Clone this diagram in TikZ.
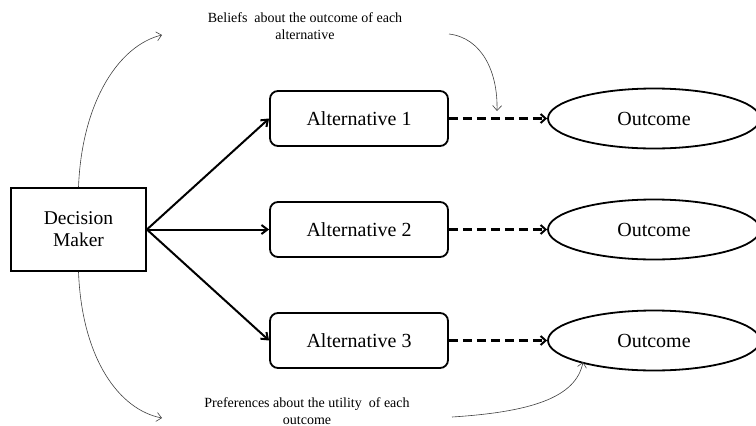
\documentclass[tikz,border=0pt]{standalone}
\usepackage{fontspec}
\setmainfont{Liberation Serif}
\usetikzlibrary{shapes.geometric,arrows.meta}
\begin{document}
\begin{tikzpicture}[x=1pt,y=-1pt,
  altbox/.style={draw,line width=1.8pt,rounded corners=8pt,minimum width=178pt,minimum height=55pt,font=\fontsize{20}{22}\selectfont},
  outell/.style={draw,ellipse,line width=1.8pt,minimum width=212pt,minimum height=60pt,font=\fontsize{20}{22}\selectfont},
  dmbox/.style={draw,line width=1.8pt,minimum width=135pt,minimum height=83pt,align=center,font=\fontsize{19.5}{22}\selectfont},
  thickarrow/.style={line width=2pt,-{Straight Barb[length=6pt,width=9pt,line width=2pt]}},
  dasharrow/.style={line width=2.4pt,dash pattern=on 9pt off 5pt,-{Straight Barb[length=5pt,width=9pt,line width=2pt]}},
  thinarrow/.style={line width=0.6pt,draw=black!75,-{Straight Barb[length=5pt,width=9pt,line width=0.6pt]}},
  note/.style={align=center,font=\fontsize{14}{17}\selectfont}]
\useasboundingbox (0,0) rectangle (756,426);
\node[dmbox] (dm) at (78.5,229.5) {Decision\\Maker};
\node[altbox] (a1) at (359,118.5) {Alternative 1};
\node[altbox] (a2) at (359,229.5) {Alternative 2};
\node[altbox] (a3) at (359,340.5) {Alternative 3};
\node[outell] (o1) at (654,118.5) {Outcome};
\node[outell] (o2) at (654,229.5) {Outcome};
\node[outell] (o3) at (654,340.5) {Outcome};
\node[note] (bel) at (305,26) {Beliefs \ about the outcome of each\\alternative};
\node[note] (pref) at (307,411) {Preferences about the utility \ of each\\outcome};
\coordinate (belin) at (162,35);
\coordinate (belout) at (449,34);
\coordinate (prefin) at (162,418);
\coordinate (prefout) at (452,417);
\draw[thickarrow] (dm.east) -- (a1.west);
\draw[thickarrow] (dm.east) -- (a2.west);
\draw[thickarrow] (dm.east) -- (a3.west);
\draw[dasharrow] (a1.east) -- (o1.west);
\draw[dasharrow] (a2.east) -- (o2.west);
\draw[dasharrow] (a3.east) -- (o3.west);
\draw[thinarrow] (dm.north) .. controls (82,100) and (120,45) .. (belin);
\draw[thinarrow] (dm.south) .. controls (82,360) and (120,410) .. (prefin);
\draw[thinarrow] (belout) .. controls (482,38) and (498,72) .. (497,111);
\draw[thinarrow] (prefout) .. controls (530,412) and (576,398) .. (583,362);
\end{tikzpicture}
\end{document}
